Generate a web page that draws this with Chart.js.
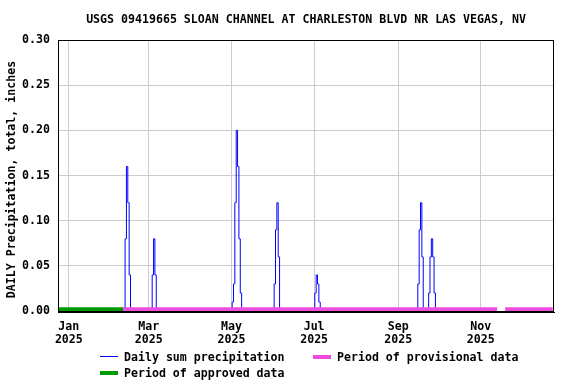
<!DOCTYPE html>
<html>
<head>
<meta charset="utf-8">
<script src="https://cdn.jsdelivr.net/npm/chart.js@4.4.1/dist/chart.umd.min.js"></script>
<style>
  body { margin: 0; background: #fff; }
  #wrap { position: relative; width: 576px; height: 384px; }
  .lg { position: absolute; font: bold 11.6px "DejaVu Sans Mono", monospace; color: #000; white-space: nowrap; line-height: 14px; }
  .sw { position: absolute; }
</style>
</head>
<body>
<div id="wrap">
  <canvas id="myChart" width="576" height="384"></canvas>
  <div class="sw" style="left:100px;top:356px;width:18px;height:1px;background:#0000ff"></div>
  <div class="lg" style="left:124px;top:350px">Daily sum precipitation</div>
  <div class="sw" style="left:313px;top:355px;width:18px;height:4px;background:#ee4cdc"></div>
  <div class="lg" style="left:337px;top:350px">Period of provisional data</div>
  <div class="sw" style="left:100px;top:371px;width:18px;height:4px;background:#009900"></div>
  <div class="lg" style="left:124px;top:365.5px">Period of approved data</div>
</div>
<script>
// daily precipitation, inches (zeros mark the dry days around each storm)
const precipDates = [
  '2025-02-11', '2025-02-12', '2025-02-13', '2025-02-14', '2025-02-15', '2025-02-16',
  '2025-03-03', '2025-03-04', '2025-03-05', '2025-03-06', '2025-03-07',
  '2025-05-01', '2025-05-02', '2025-05-03', '2025-05-04', '2025-05-05', '2025-05-06', '2025-05-07', '2025-05-08', '2025-05-09',
  '2025-06-01', '2025-06-02', '2025-06-03', '2025-06-04', '2025-06-05', '2025-06-06',
  '2025-07-01', '2025-07-02', '2025-07-03', '2025-07-04', '2025-07-05', '2025-07-06',
  '2025-09-15', '2025-09-16', '2025-09-17', '2025-09-18', '2025-09-19', '2025-09-20',
  '2025-09-23', '2025-09-24', '2025-09-25', '2025-09-26', '2025-09-27', '2025-09-28', '2025-09-29'
];
const precipValues = [
  0, 0.08, 0.16, 0.12, 0.04, 0,
  0, 0.04, 0.08, 0.04, 0,
  0, 0.01, 0.03, 0.12, 0.20, 0.16, 0.08, 0.02, 0,
  0, 0.03, 0.09, 0.12, 0.06, 0,
  0, 0.02, 0.04, 0.03, 0.01, 0,
  0, 0.03, 0.09, 0.12, 0.06, 0,
  0, 0.02, 0.06, 0.08, 0.06, 0.02, 0
];

// data status periods [start, end]
const approvedPeriods = [['2024-12-24', '2025-02-10']];
const provisionalPeriods = [['2025-02-10', '2025-11-13'], ['2025-11-19', '2025-12-24']];

const axisStart = '2024-12-24';
const axisEnd = '2025-12-25';
const tickDates = ['2025-01-01', '2025-03-01', '2025-05-01', '2025-07-01', '2025-09-01', '2025-11-01'];
const tickLabels = [['Jan', '2025'], ['Mar', '2025'], ['May', '2025'], ['Jul', '2025'], ['Sep', '2025'], ['Nov', '2025']];
const yTicks = [0, 0.05, 0.10, 0.15, 0.20, 0.25, 0.30];

function dayOf(s) {
  const p = s.split('-').map(Number);
  return (Date.UTC(p[0], p[1] - 1, p[2]) - Date.UTC(2025, 0, 1)) / 86400000;
}

const barLevel = 0.002;
function periodData(periods) {
  const out = [];
  periods.forEach((pr, i) => {
    if (i > 0) out.push({ x: dayOf(pr[0]), y: null });
    out.push({ x: dayOf(pr[0]), y: barLevel });
    out.push({ x: dayOf(pr[1]), y: barLevel });
  });
  return out;
}

const tickDays = tickDates.map(dayOf);
const font = { family: '"DejaVu Sans Mono", monospace', size: 11.6, weight: 'bold' };

const framePlugin = {
  id: 'frame',
  afterDraw(chart) {
    const a = chart.chartArea, ctx = chart.ctx;
    ctx.save();
    ctx.strokeStyle = '#000';
    ctx.lineWidth = 1;
    ctx.strokeRect(Math.round(a.left) + 0.5, Math.round(a.top) + 0.5, Math.round(a.right - a.left) - 1, Math.round(a.bottom - a.top) - 1);
    ctx.restore();
  }
};

const ctx = document.getElementById('myChart').getContext('2d');
const myChart = new Chart(ctx, {
  type: 'line',
  data: {
    datasets: [
      {
        label: 'Period of approved data',
        data: periodData(approvedPeriods),
        borderColor: '#009900',
        borderWidth: 4,
        pointRadius: 0,
        order: 0
      },
      {
        label: 'Period of provisional data',
        data: periodData(provisionalPeriods),
        borderColor: '#ee4cdc',
        borderWidth: 4,
        pointRadius: 0,
        order: 0
      },
      {
        label: 'Daily sum precipitation',
        data: precipDates.map((d, i) => ({ x: dayOf(d), y: precipValues[i] })),
        borderColor: '#0000ff',
        borderWidth: 1,
        pointRadius: 0,
        stepped: 'middle',
        order: 1
      }
    ]
  },
  options: {
    responsive: false,
    animation: false,
    devicePixelRatio: 1,
    layout: { padding: { left: 0, right: 22, top: 0, bottom: 0 } },
    plugins: {
      legend: { display: false },
      tooltip: { enabled: false },
      title: {
        display: true,
        text: 'USGS 09419665 SLOAN CHANNEL AT CHARLESTON BLVD NR LAS VEGAS, NV',
        color: '#000',
        font: font,
        fullSize: false,
        padding: { top: 13, bottom: 13.08 }
      }
    },
    scales: {
      x: {
        type: 'linear',
        min: dayOf(axisStart),
        max: dayOf(axisEnd),
        afterFit(scale) { scale.height = 72; },
        afterBuildTicks(scale) { scale.ticks = tickDays.map(v => ({ value: v })); },
        grid: { color: '#cccccc', lineWidth: 1, drawTicks: false },
        border: { display: true, color: '#000', width: 1 },
        ticks: {
          autoSkip: false,
          maxRotation: 0,
          padding: 8,
          color: '#000',
          font: { family: font.family, size: 11.6, weight: 'bold', lineHeight: 1.17 },
          callback(v) {
            const i = tickDays.indexOf(v);
            return i >= 0 ? tickLabels[i] : '';
          }
        }
      },
      y: {
        min: -0.001,
        max: 0.30,
        afterFit(scale) { scale.width = 58; },
        afterBuildTicks(scale) { scale.ticks = yTicks.map(v => ({ value: v })); },
        grid: { color: '#cccccc', lineWidth: 1, drawTicks: false },
        border: { display: true, color: '#000', width: 1 },
        ticks: {
          padding: 8,
          color: '#000',
          font: font,
          callback(v) { return v.toFixed(2); }
        },
        title: {
          display: true,
          text: 'DAILY Precipitation, total, inches ',
          color: '#000',
          font: font,
          padding: { top: 5, bottom: 0 }
        }
      }
    }
  },
  plugins: [framePlugin]
});
</script>
</body>
</html>
